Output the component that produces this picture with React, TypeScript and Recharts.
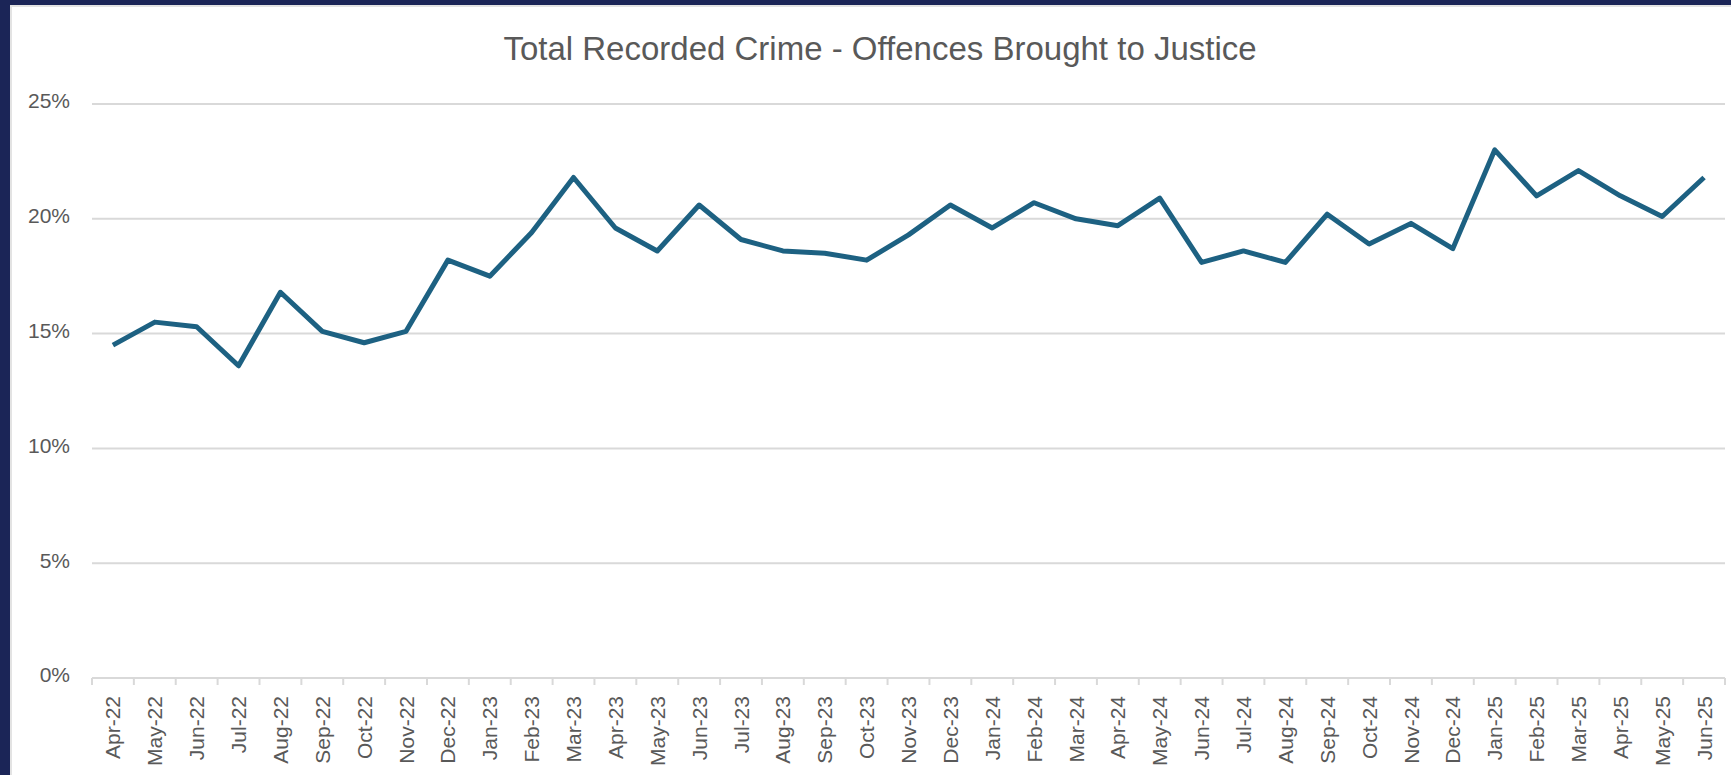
import React from 'react';
import { LineChart, Line, XAxis, YAxis, CartesianGrid } from 'recharts';

// Month labels, Apr-22 .. Jun-25
const months = [
  'Apr-22', 'May-22', 'Jun-22', 'Jul-22', 'Aug-22', 'Sep-22', 'Oct-22', 'Nov-22', 'Dec-22',
  'Jan-23', 'Feb-23', 'Mar-23', 'Apr-23', 'May-23', 'Jun-23', 'Jul-23', 'Aug-23', 'Sep-23',
  'Oct-23', 'Nov-23', 'Dec-23', 'Jan-24', 'Feb-24', 'Mar-24', 'Apr-24', 'May-24', 'Jun-24',
  'Jul-24', 'Aug-24', 'Sep-24', 'Oct-24', 'Nov-24', 'Dec-24', 'Jan-25', 'Feb-25', 'Mar-25',
  'Apr-25', 'May-25', 'Jun-25',
];

const justiceRate = [
  14.5, 15.5, 15.3, 13.6, 16.8, 15.1, 14.6, 15.1, 18.2,
  17.5, 19.4, 21.8, 19.6, 18.6, 20.6, 19.1, 18.6, 18.5,
  18.2, 19.3, 20.6, 19.6, 20.7, 20.0, 19.7, 20.9, 18.1,
  18.6, 18.1, 20.2, 18.9, 19.8, 18.7, 23.0, 21.0, 22.1,
  21.0, 20.1, 21.8,
];

const yTicks = [0, 5, 10, 15, 20, 25];

const data = months.map((m, i) => ({ month: m, rate: justiceRate[i] }));

const W = 1731;
const H = 775;
const PLOT_LEFT = 92;
const PLOT_RIGHT = 1725;
const band = (PLOT_RIGHT - PLOT_LEFT) / months.length;
const labelColor = '#595959';
const gridColor = '#d9d9d9';
const font = "'Liberation Sans', Arial, sans-serif";

// Excel-style category tick: marks sit between categories, label rotated -90
function MonthTick(props: any) {
  const { x, y, payload, index } = props;
  const ty = y + 18;
  return (
    <g>
      <line x1={x - band / 2} x2={x - band / 2} y1={y} y2={y + 7} stroke={gridColor} strokeWidth={2} />
      {index === months.length - 1 && (
        <line x1={x + band / 2} x2={x + band / 2} y1={y} y2={y + 7} stroke={gridColor} strokeWidth={2} />
      )}
      <text
        x={x}
        y={ty}
        transform={`rotate(-90, ${x}, ${ty})`}
        textAnchor="end"
        dy="0.36em"
        fill={labelColor}
        fontSize={21}
        fontFamily={font}
      >
        {payload.value}
      </text>
    </g>
  );
}

export default function App() {
  return (
    <div
      style={{
        position: 'fixed',
        left: 0,
        top: 0,
        width: W,
        height: H,
        background: '#1b2557',
        overflow: 'hidden',
      }}
    >
      <div
        style={{
          position: 'absolute',
          left: 10,
          top: 5,
          width: W - 10,
          height: H - 5,
          background: '#ffffff',
          borderLeft: '2px solid #e3e3e3',
          borderTop: '2px solid #e3e3e3',
          boxSizing: 'border-box',
        }}
      />
      <div
        style={{
          position: 'absolute',
          left: 0,
          top: 30,
          width: 1760,
          textAlign: 'center',
          fontFamily: font,
          fontSize: 33,
          color: labelColor,
          lineHeight: 1.15,
        }}
      >
        Total Recorded Crime - Offences Brought to Justice
      </div>
      <div style={{ position: 'absolute', left: 0, top: 0 }}>
        <LineChart
          width={W}
          height={H}
          data={data}
          margin={{ top: 104, right: W - PLOT_RIGHT, bottom: 7, left: 12 }}
        >
          <CartesianGrid vertical={false} stroke={gridColor} strokeWidth={2} />
          <XAxis
            dataKey="month"
            interval={0}
            height={90}
            padding={{ left: band / 2, right: band / 2 }}
            tickSize={0}
            tickMargin={0}
            tickLine={false}
            axisLine={{ stroke: gridColor, strokeWidth: 2 }}
            tick={<MonthTick />}
          />
          <YAxis
            width={80}
            domain={[0, 25]}
            ticks={yTicks}
            interval={0}
            axisLine={false}
            tickLine={false}
            tickSize={0}
            tickMargin={22}
            tickFormatter={(v: number) => `${v}%`}
            tick={{ fill: labelColor, fontSize: 21, fontFamily: font, dy: -3 }}
          />
          <Line
            type="linear"
            dataKey="rate"
            stroke="#1d6182"
            strokeWidth={5}
            strokeLinejoin="round"
            dot={false}
            activeDot={false}
            isAnimationActive={false}
          />
        </LineChart>
      </div>
    </div>
  );
}
